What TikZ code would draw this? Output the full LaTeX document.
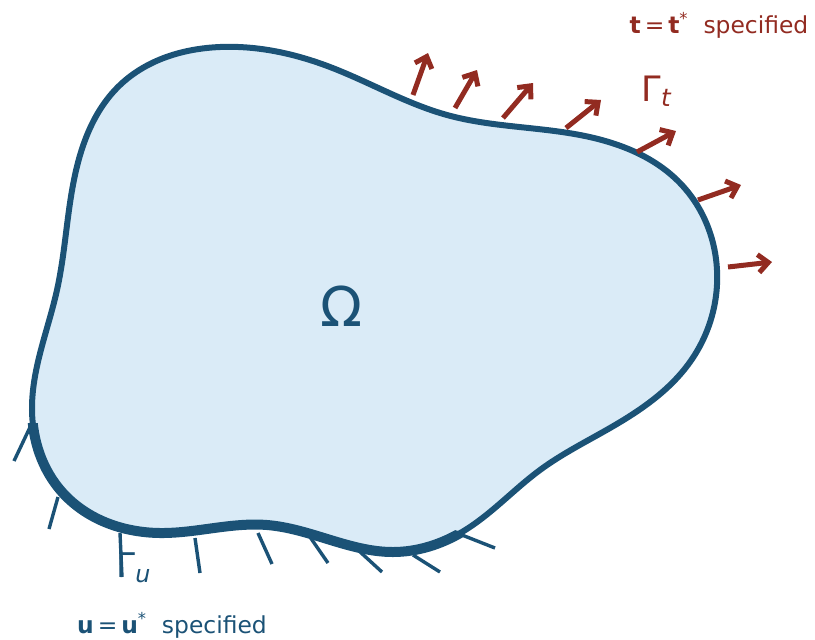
\documentclass[tikz,border=0pt]{standalone}
\usepackage{fontspec}
\setmainfont{DejaVu Sans}
\usetikzlibrary{arrows.meta, hobby}
\definecolor{domfill}{HTML}{DAEBF7}
\definecolor{domedge}{HTML}{1B5276}
\definecolor{tracred}{HTML}{922B21}

\newcommand{\blobpath}{(220,47) .. (330,67) .. (447,115) .. (580,135)
    .. (680,183) .. (717,270) .. (690,362) .. (610,428) .. (540,470)
    .. (462,532) .. (393,552) .. (267,525) .. (160,533) .. (62,492)
    .. (32,410) .. (57,290) .. (75,175) .. (120,85)}

\begin{document}
\begin{tikzpicture}[x=0.5pt, y=-0.5pt,
    boundary/.style={draw=domedge, line width=3pt, fill=domfill},
    fixed/.style={domedge, line width=5pt},
    hatch/.style={domedge, line width=1.7pt},
    traction/.style={tracred, line width=2.5pt, -{Straight Barb[length=5pt, width=9pt]}},
    tlabel/.style={text=tracred, inner sep=0pt},
    ulabel/.style={text=domedge, inner sep=0pt}
]
    \useasboundingbox (0,0) rectangle (815,639);

    % Domain
    \draw[boundary, use Hobby shortcut, closed=true] \blobpath;

    % Dirichlet part of the boundary
    \begin{scope}
        \clip (0,423) -- (60,423) -- (462,532) -- (490,639) -- (0,639) -- cycle;
        \draw[fixed, use Hobby shortcut, closed=true] \blobpath;
    \end{scope}
    \foreach \a/\b/\c/\d in {32/423/14/461, 58/497/49/529, 120/533/122/577,
        195/538/200/573, 258/533/272/564, 310/537/328/563, 358/550/382/572,
        413/555/440/572, 462/535/495/548} {
        \draw[hatch] (\a,\b) -- (\c,\d);
    }

    % Tractions
    \foreach \a/\b/\c/\d in {413/95/428/53, 455/108/477/70, 503/118/533/83,
        566/128/601/100, 637/152/676/131, 698/200/741/185, 728/267/772/262} {
        \draw[traction] (\a,\b) -- (\c,\d);
    }

    % Labels
    \node[ulabel, font=\fontsize{27.5}{30}\selectfont] (omega) at (342,306) {Ω};
    \node[tlabel, font=\fontsize{17.5}{20}\selectfont] (gammat) at (657,91)
        {Γ\textsubscript{\textit{t}}};
    \node[ulabel, font=\fontsize{17}{20}\selectfont] (gammau) at (134,568)
        {Γ\textsubscript{\textit{u}}};
    \node[tlabel, font=\fontsize{11.7}{14}\selectfont] (tspec) at (719,25)
        {\textbf{t}\,=\,\textbf{t}\textsuperscript{*}\ \ specified};
    \node[ulabel, font=\fontsize{11.7}{14}\selectfont] (uspec) at (172,625)
        {\textbf{u}\,=\,\textbf{u}\textsuperscript{*}\ \ specified};
\end{tikzpicture}
\end{document}
